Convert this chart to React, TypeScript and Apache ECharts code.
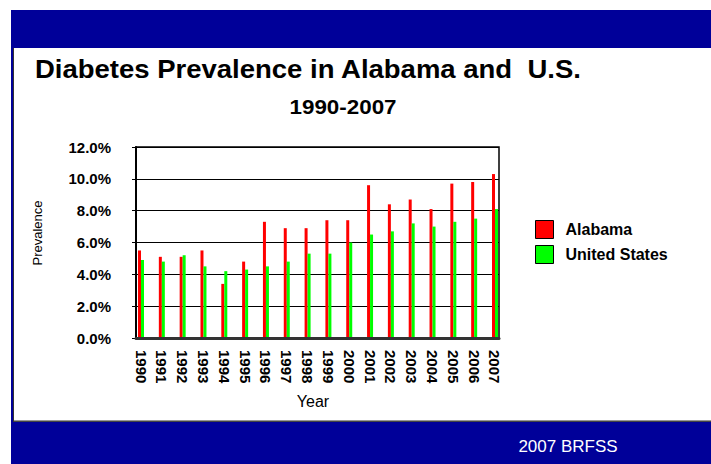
import React, { useEffect, useRef } from "react";
import * as echarts from "echarts";

// Survey years and prevalence (%) for each year
const years = [
  "1990", "1991", "1992", "1993", "1994", "1995", "1996", "1997", "1998",
  "1999", "2000", "2001", "2002", "2003", "2004", "2005", "2006", "2007",
];
const alabama = [5.5, 5.1, 5.1, 5.5, 3.4, 4.8, 7.3, 6.9, 6.9, 7.4, 7.4, 9.6, 8.4, 8.7, 8.1, 9.7, 9.8, 10.3];
const unitedStates = [4.9, 4.8, 5.2, 4.5, 4.2, 4.3, 4.5, 4.8, 5.3, 5.3, 6.0, 6.5, 6.7, 7.2, 7.0, 7.3, 7.5, 8.1];

const titleText = "Diabetes Prevalence in Alabama and  U.S.";
const subtitleText = "1990-2007";
const footerText = "2007 BRFSS";
const xAxisTitle = "Year";
const yAxisTitle = "Prevalence";
const yMin = 0;
const yMax = 12;
const yStep = 2;

const FONT = "'Liberation Sans', Arial, Helvetica, sans-serif";
const NAVY = "#000099";

export default function App() {
  const ref = useRef<HTMLDivElement>(null);

  useEffect(() => {
    document.body.style.margin = "0";
    if (!ref.current) return;
    const chart = echarts.init(ref.current, undefined, { renderer: "svg" });

    chart.setOption({
      animation: false,
      backgroundColor: "#ffffff",
      textStyle: { fontFamily: FONT },
      graphic: [
        // slide frame: header band, left edge, footer band
        { type: "rect", z: -10, shape: { x: 11, y: 10, width: 700, height: 38 }, style: { fill: NAVY } },
        { type: "rect", z: -10, shape: { x: 11, y: 48, width: 2, height: 374 }, style: { fill: NAVY } },
        { type: "rect", z: -10, shape: { x: 13, y: 48, width: 1, height: 374 }, style: { fill: "#333333" } },
        { type: "rect", z: -10, shape: { x: 14, y: 420, width: 697, height: 1 }, style: { fill: "#999999" } },
        { type: "rect", z: -10, shape: { x: 14, y: 421, width: 697, height: 1 }, style: { fill: "#444444" } },
        { type: "rect", z: -10, shape: { x: 11, y: 422, width: 700, height: 42 }, style: { fill: NAVY } },
        {
          type: "text", x: 568, y: 446,
          style: { text: footerText, fill: "#ffffff", font: `17px ${FONT}`, align: "center", verticalAlign: "middle" },
        },
        // titles, drawn slightly wide
        {
          type: "text", x: 35, y: 69, scaleX: 1.1,
          style: { text: titleText, fill: "#000000", font: `bold 25px ${FONT}`, align: "left", verticalAlign: "middle" },
        },
        {
          type: "text", x: 343, y: 107, scaleX: 1.12,
          style: { text: subtitleText, fill: "#000000", font: `bold 20px ${FONT}`, align: "center", verticalAlign: "middle" },
        },
        // axis titles
        {
          type: "text", x: 313, y: 401,
          style: { text: xAxisTitle, fill: "#000000", font: `16px ${FONT}`, align: "center", verticalAlign: "middle" },
        },
        {
          type: "text", x: 37, y: 233, rotation: Math.PI / 2,
          style: { text: yAxisTitle, fill: "#000000", font: `13px ${FONT}`, align: "center", verticalAlign: "middle" },
        },
      ],
      legend: {
        orient: "vertical",
        left: 535,
        top: 220,
        padding: 0,
        itemWidth: 18,
        itemHeight: 18,
        itemGap: 6,
        icon: "rect",
        itemStyle: { borderColor: "#000000", borderWidth: 1 },
        textStyle: { fontFamily: FONT, fontSize: 16, fontWeight: "bold", color: "#000000", padding: [0, 0, 0, 7] },
        data: ["Alabama", "United States"],
      },
      grid: [
        // plot frame with gridlines
        { left: 136, right: 212, top: 147, bottom: 126, show: true, borderColor: "#000000", borderWidth: 1.5, backgroundColor: "transparent" },
        // bar area, slightly wider so the first and last pairs sit near the frame edges
        { left: 130.6, right: 205.6, top: 147, bottom: 126 },
      ],
      xAxis: [
        {
          gridIndex: 0,
          type: "category",
          data: years,
          axisLabel: { show: false },
          axisTick: { show: false },
          axisLine: { show: true, lineStyle: { color: "#333333", width: 3 } },
          z: 5,
        },
        {
          gridIndex: 1,
          type: "category",
          data: years,
          axisLine: { show: false },
          axisTick: { show: false },
          axisLabel: {
            interval: 0,
            rotate: -90,
            margin: 12,
            padding: [0, 0, 6, 0],
            color: "#000000",
            fontFamily: FONT,
            fontSize: 15,
            fontWeight: "bold",
          },
        },
      ],
      yAxis: [
        {
          gridIndex: 0,
          type: "value",
          min: yMin,
          max: yMax,
          interval: yStep,
          axisLine: { show: true, lineStyle: { color: "#000000", width: 2 } },
          axisTick: { show: true, length: 4, lineStyle: { color: "#000000" } },
          splitLine: { show: true, lineStyle: { color: "#000000", width: 1 } },
          axisLabel: {
            margin: 25,
            color: "#000000",
            fontFamily: FONT,
            fontSize: 15,
            fontWeight: "bold",
            formatter: (v: number) => v.toFixed(1) + "%",
          },
        },
        { gridIndex: 1, type: "value", min: yMin, max: yMax, show: false },
      ],
      series: [
        {
          name: "Alabama",
          type: "bar",
          xAxisIndex: 1,
          yAxisIndex: 1,
          data: alabama,
          barWidth: 3,
          barGap: "0%",
          itemStyle: { color: "#ff0000" },
        },
        {
          name: "United States",
          type: "bar",
          xAxisIndex: 1,
          yAxisIndex: 1,
          data: unitedStates,
          barWidth: 3,
          barGap: "0%",
          itemStyle: { color: "#00ff00" },
        },
      ],
    });

    return () => chart.dispose();
  }, []);

  return <div ref={ref} style={{ width: 711, height: 464 }} />;
}
